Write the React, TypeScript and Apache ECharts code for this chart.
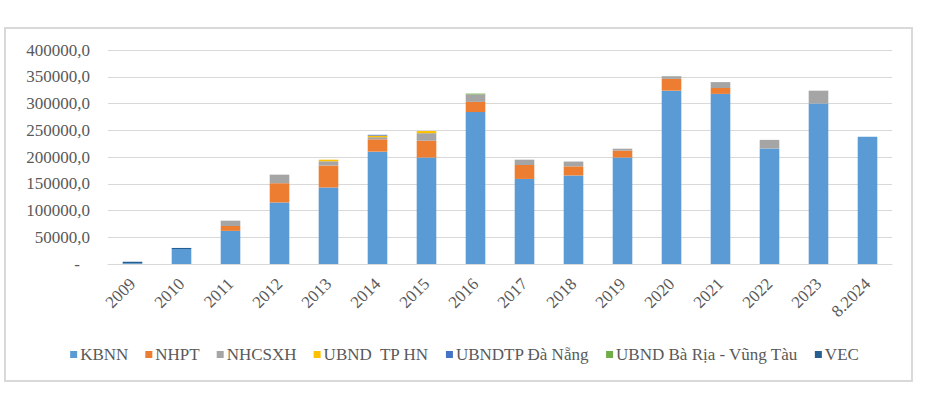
import React, { useEffect, useRef } from "react";
import * as echarts from "echarts";

const years = ["2009", "2010", "2011", "2012", "2013", "2014", "2015", "2016", "2017", "2018", "2019", "2020", "2021", "2022", "2023", "8.2024"];
const kbnn = [1500, 28000, 62000, 115000, 143000, 210000, 199000, 284000, 159000, 165500, 199000, 324000, 318000, 216000, 300000, 238000];
const nhpt = [0, 0, 9000, 36000, 41000, 23000, 31500, 19000, 26000, 17000, 13000, 22000, 11000, 0, 0, 0];
const nhcsxh = [0, 0, 10000, 16000, 8000, 4000, 14000, 14000, 10000, 9000, 3500, 5000, 11000, 16000, 24000, 0];
const ubndHN = [0, 0, 0, 0, 3000, 3000, 4000, 0, 0, 0, 0, 0, 0, 0, 0, 0];
const ubndDaNang = [0, 0, 0, 0, 0, 1500, 0, 0, 0, 0, 0, 0, 0, 0, 0, 0];
const ubndBRVT = [0, 0, 0, 0, 0, 0, 0, 1500, 0, 0, 0, 0, 0, 0, 0, 0];
const vec = [2500, 2000, 0, 0, 0, 0, 0, 0, 0, 0, 0, 0, 0, 0, 0, 0];

const seriesNames = ["KBNN", "NHPT", "NHCSXH", "UBND  TP HN", "UBNDTP Đà Nẵng", "UBND Bà Rịa - Vũng Tàu", "VEC"];
const seriesData = [kbnn, nhpt, nhcsxh, ubndHN, ubndDaNang, ubndBRVT, vec];
const colors = ["#5B9BD5", "#ED7D31", "#A5A5A5", "#FFC000", "#4472C4", "#70AD47", "#255E91"];

const FONT = "Liberation Serif";

export default function App() {
  const ref = useRef<HTMLDivElement>(null);
  useEffect(() => {
    document.body.style.margin = "0";
    const chart = echarts.init(ref.current!, undefined, { renderer: "svg" });
    chart.setOption({
      animation: false,
      backgroundColor: "#ffffff",
      color: colors,
      textStyle: { fontFamily: FONT },
      graphic: [
        {
          type: "rect",
          shape: { x: 5, y: 28, width: 907, height: 353 },
          style: { fill: "none", stroke: "#d9d9d9", lineWidth: 2 },
          silent: true,
        },
      ],
      grid: { left: 108, right: 37, top: 50, bottom: 136, containLabel: false },
      legend: {
        top: 341,
        left: "center",
        icon: "rect",
        itemWidth: 7,
        itemHeight: 7,
        itemGap: 17,
        textStyle: { fontFamily: FONT, fontSize: 17, color: "#595959", padding: [0, 0, 0, -2] },
        data: seriesNames,
      },
      xAxis: {
        type: "category",
        data: years,
        axisLine: { lineStyle: { color: "#d9d9d9" } },
        axisTick: { show: false },
        axisLabel: {
          rotate: 45,
          interval: 0,
          margin: 17,
          fontFamily: FONT,
          fontSize: 17,
          color: "#595959",
        },
      },
      yAxis: {
        type: "value",
        min: 0,
        max: 400000,
        interval: 50000,
        axisLine: { show: false },
        axisTick: { show: false },
        splitLine: { lineStyle: { color: "#d9d9d9" } },
        axisLabel: {
          margin: 18,
          fontFamily: FONT,
          fontSize: 17,
          color: "#595959",
          formatter: (v: number) => (v === 0 ? "{d|-}" : v + ",0"),
          rich: { d: { padding: [0, 10, 0, 0], fontFamily: FONT, fontSize: 17, color: "#595959" } },
        },
      },
      series: seriesNames.map((name, i) => ({
        name,
        type: "bar",
        stack: "total",
        barWidth: "40%",
        data: seriesData[i],
      })),
    });
    return () => chart.dispose();
  }, []);
  return <div ref={ref} style={{ width: 929, height: 400 }} />;
}
